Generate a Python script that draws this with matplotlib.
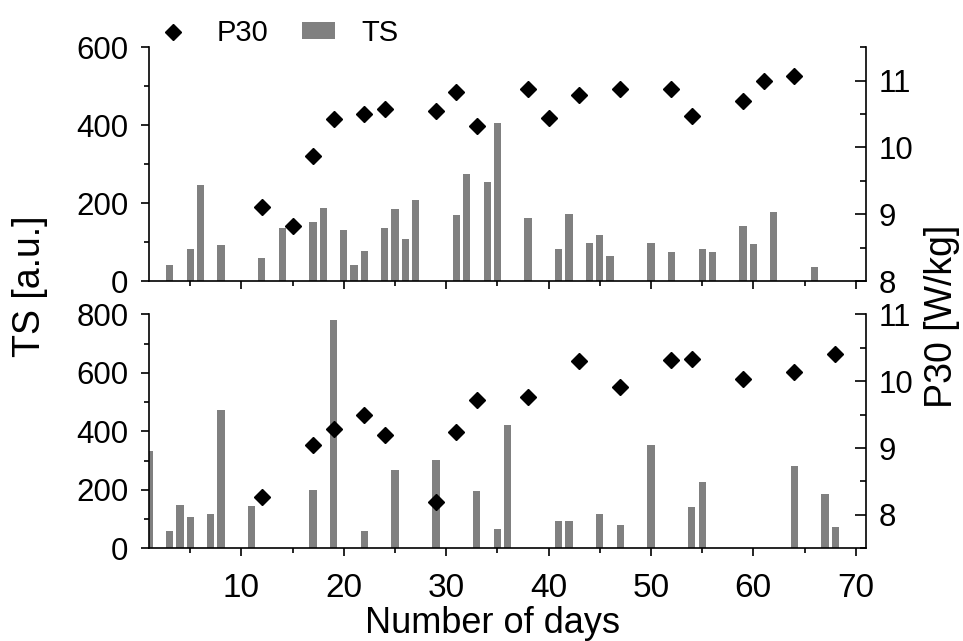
import matplotlib
matplotlib.use("Agg")
import matplotlib.pyplot as plt
from matplotlib.lines import Line2D
from matplotlib.patches import Patch
from matplotlib.ticker import MultipleLocator

plt.rcParams['font.family'] = ['Liberation Sans', 'DejaVu Sans']

# upper panel
days_ts_a = [3, 5, 6, 8, 12, 14, 17, 18, 20, 21, 22, 24, 25, 26, 27, 31, 32, 34, 35,
             38, 41, 42, 44, 45, 46, 50, 52, 55, 56, 59, 60, 62, 66]
ts_a = [40, 81, 246, 92, 59, 136, 152, 187, 131, 41, 77, 137, 185, 107, 208, 169, 275, 253, 406,
        161, 83, 172, 98, 118, 64, 98, 74, 83, 74, 141, 95, 177, 36]
days_p30_a = [12, 15, 17, 19, 22, 24, 29, 31, 33, 38, 40, 43, 47, 52, 54, 59, 61, 64]
p30_a = [9.11, 8.82, 9.87, 10.42, 10.50, 10.58, 10.55, 10.83, 10.32,
         10.88, 10.44, 10.78, 10.88, 10.88, 10.47, 10.69, 10.99, 11.07]

# lower panel
days_ts_b = [1, 3, 4, 5, 7, 8, 11, 17, 19, 22, 25, 29, 33, 35, 36,
             41, 42, 45, 47, 50, 54, 55, 64, 67, 68]
ts_b = [333, 60, 148, 107, 116, 472, 145, 198, 779, 58, 267, 302, 196, 66, 420,
        92, 92, 116, 79, 353, 141, 227, 281, 186, 72]
days_p30_b = [12, 17, 19, 22, 24, 29, 31, 33, 38, 43, 47, 52, 54, 59, 64, 68]
p30_b = [8.27, 9.04, 9.28, 9.49, 9.19, 8.19, 9.24, 9.72, 9.77,
         10.30, 9.91, 10.32, 10.33, 10.03, 10.14, 10.40]

BAR = '#808080'
YTICK_FS = 22.5
XTICK_FS = 24
LABEL_FS = 27

fig = plt.figure(figsize=(9.63, 6.41), dpi=100)
ax_a = fig.add_axes([0.155, 0.5616, 0.7442, 0.3646])
ax_b = fig.add_axes([0.155, 0.1446, 0.7442, 0.3651])


def panel(ax, days_ts, ts, days_p, p30, ts_lim, ts_step, p_lim, show_x):
    ax.bar(days_ts, ts, width=0.7, color=BAR, zorder=2)
    ax.set_xlim(1, 71)
    ax.set_ylim(*ts_lim)
    ax.xaxis.set_major_locator(MultipleLocator(10))
    ax.xaxis.set_minor_locator(MultipleLocator(5))
    ax.yaxis.set_major_locator(MultipleLocator(ts_step))
    ax.yaxis.set_minor_locator(MultipleLocator(ts_step / 2))
    ax.spines['top'].set_visible(False)
    ax.spines['right'].set_visible(False)
    for s in ('left', 'bottom'):
        ax.spines[s].set_linewidth(1.2)
    ax.tick_params(which='major', direction='out', length=6, width=1.2)
    ax.tick_params(which='minor', direction='out', length=3.5, width=1.2)
    ax.tick_params(axis='y', labelsize=YTICK_FS, pad=9)
    ax.tick_params(axis='x', labelsize=XTICK_FS, pad=12)
    if not show_x:
        ax.tick_params(axis='x', labelbottom=False)

    tw = ax.twinx()
    tw.plot(days_p, p30, linestyle='none', marker='D', ms=7.8, color='black', zorder=3)
    tw.set_ylim(*p_lim)
    tw.yaxis.set_major_locator(MultipleLocator(1))
    tw.yaxis.set_minor_locator(MultipleLocator(0.5))
    for s in ('top', 'left', 'bottom'):
        tw.spines[s].set_visible(False)
    tw.spines['right'].set_linewidth(1.2)
    tw.tick_params(which='major', direction='in', length=8, width=1.2,
                   labelsize=YTICK_FS, pad=9)
    tw.tick_params(which='minor', direction='in', length=4.5, width=1.2)
    return tw


panel(ax_a, days_ts_a, ts_a, days_p30_a, p30_a, (0, 600), 200, (8, 11.5), False)
panel(ax_b, days_ts_b, ts_b, days_p30_b, p30_b, (0, 800), 200, (7.5, 11), True)

fig.text(0.031, 1 - 286 / 641, 'TS [a.u.]', rotation=90, ha='center', va='center',
         fontsize=LABEL_FS)
fig.text(942 / 963, 1 - 316 / 641, 'P30 [W/kg]', rotation=90, ha='center', va='center',
         fontsize=LABEL_FS)
fig.text(492.5 / 963, 1 - 633 / 641, 'Number of days', ha='center', va='baseline',
         fontsize=26)

handles = [Line2D([], [], linestyle='none', marker='D', ms=7.8, color='black'),
           Patch(facecolor=BAR, edgecolor='none')]
fig.legend(handles, ['P30', 'TS'], loc='center left', bbox_to_anchor=(156.5 / 963, 1 - 33 / 641),
           ncol=2, frameon=False, fontsize=21, handlelength=1.15, handleheight=0.5,
           handletextpad=0.9, columnspacing=1.15, borderpad=0, borderaxespad=0)

fig.savefig('out.png', dpi=100)
